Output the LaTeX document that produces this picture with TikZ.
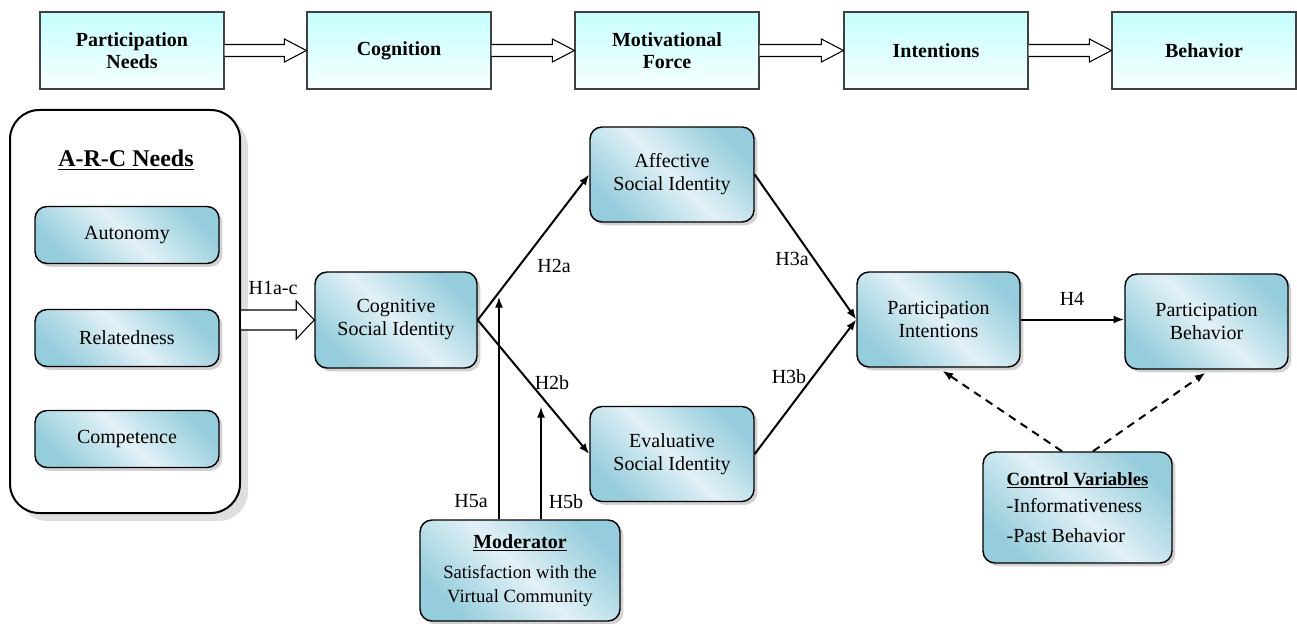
\documentclass[tikz,border=0pt]{standalone}
\usepackage{fontspec}
\setmainfont{Liberation Serif}
\usetikzlibrary{calc,shadows,arrows.meta}

\definecolor{idDark}{RGB}{150,205,220}
\definecolor{idLight}{RGB}{226,241,247}
\definecolor{stageTop}{RGB}{198,255,255}
\definecolor{stageBot}{RGB}{246,255,255}

\tikzset{
  stage/.style={draw=black!75, line width=0.9pt, top color=stageTop, bottom color=stageBot,
    minimum width=138pt, minimum height=57.75pt, inner sep=0pt, align=center,
    font=\fontsize{15}{16}\selectfont\bfseries},
  idbox/.style={draw, line width=1.1pt, rounded corners=9pt,
    top color=idDark, bottom color=idDark, middle color=idLight, shading angle=-45,
    drop shadow={shadow xshift=2.5pt, shadow yshift=-2.5pt, fill=black!35},
    inner sep=0pt, align=center, font=\fontsize{15}{17.25}\selectfont},
  needbox/.style={idbox, minimum width=138pt, minimum height=42.75pt},
  hyp/.style={font=\fontsize{15}{17}\selectfont},
  link/.style={line width=1.5pt, -{Latex[length=8pt,width=6pt]}},
  modlink/.style={line width=1.1pt, -{Latex[length=8pt,width=6pt]}},
  ctrllink/.style={line width=1.5pt, dash pattern={on 6pt off 4.5pt}, -{Latex[length=8pt,width=6pt]}},
  fat/.style={draw=black, line width=0.8pt, fill=white}
}

% hollow block arrow: from, to, half shaft, half head, head length
\newcommand{\fatarrow}[5]{%
  \draw[fat] ($(#1.east |- #2.west)+(0,#3)$) -- ($(#2.west)+(-#5,#3)$) -- ($(#2.west)+(-#5,#4)$)
    -- (#2.west) -- ($(#2.west)+(-#5,-#4)$) -- ($(#2.west)+(-#5,-#3)$) -- ($(#1.east |- #2.west)+(0,-#3)$);}

\begin{document}
\begin{tikzpicture}[x=0.75pt,y=-0.75pt]
\useasboundingbox (0,0) rectangle (1297,624);

%Stages along the top
\node[stage] (sneeds) at (132,50.5) {Participation\\Needs};
\node[stage] (scog) at (399,50.5) {Cognition};
\node[stage] (smot) at (667,50.5) {Motivational\\Force};
\node[stage] (sint) at (936,50.5) {Intentions};
\node[stage] (sbeh) at (1204,50.5) {Behavior};

\fatarrow{sneeds}{scog}{6}{11.5}{22}
\fatarrow{scog}{smot}{6}{11.5}{22}
\fatarrow{smot}{sint}{6}{11.5}{22}
\fatarrow{sint}{sbeh}{6}{11.5}{22}

%Shape: A-R-C container
\node[draw, line width=1.5pt, rounded corners=22pt, fill=white, minimum width=172.5pt, minimum height=302.25pt,
  drop shadow={shadow xshift=6pt, shadow yshift=-6pt, fill=black!25}] (arc) at (125,311.5) {};
\node[font=\fontsize{18}{20}\selectfont\bfseries] (arctitle) at (126,160) {\underline{A-R-C Needs}};
\node[needbox] (auto) at (127,235) {Autonomy};
\node[needbox] (rel) at (127,338) {Relatedness};
\node[needbox] (comp) at (127,439) {Competence};

%Social identity
\node[idbox, minimum width=121.5pt, minimum height=72pt] (cog) at (396,320) {Cognitive\\Social Identity};
\node[idbox, minimum width=123pt, minimum height=71.25pt] (aff) at (672,174.5) {Affective\\Social Identity};
\node[idbox, minimum width=123pt, minimum height=71.25pt] (eval) at (672,454) {Evaluative\\Social Identity};

%Outcomes
\node[idbox, minimum width=122.25pt, minimum height=71.25pt] (pint) at (938.5,319.5) {Participation\\Intentions};
\node[idbox, minimum width=122.25pt, minimum height=71.25pt] (pbeh) at (1206.5,321.5) {Participation\\Behavior};

%Moderator and controls
\node[idbox, minimum width=150pt, minimum height=75.75pt, font=\fontsize{14}{18}\selectfont] (mod) at (520,570.5)
  {\fontsize{15}{17}\selectfont\underline{\textbf{Moderator}}\\[5pt]Satisfaction with the\\Virtual Community};
\node[idbox, minimum width=141.75pt, minimum height=83.25pt, align=left] (ctrl) at (1077.5,507.5)
  {\fontsize{14}{17}\selectfont\underline{\textbf{Control Variables}}\\[3pt]-Informativeness\\[5pt]-Past Behavior};

%Straight Lines
\fatarrow{arc}{cog}{10}{19}{18}
\draw[link] (cog.east) -- (aff.west);
\draw[link] (cog.east) -- (eval.west);
\draw[link] (aff.east) -- (pint.west);
\draw[link] (eval.east) -- (pint.west);
\draw[link] (pint.east) -- (pint.east -| pbeh.west);

\coordinate (h5a) at (499,297);
\coordinate (h5b) at (541,407);
\draw[modlink] (mod.north -| h5a) -- (h5a);
\draw[modlink] (mod.north -| h5b) -- (h5b);

\draw[ctrllink] ($(ctrl.north)+(-15.5,0)$) -- ($(pint.south)+(4,3)$);
\draw[ctrllink] ($(ctrl.north)+(15.5,0)$) -- ($(pbeh.south)+(-1,3)$);

% Text Node
\node[hyp] (l1) at (273,288) {H1a-c};
% Text Node
\node[hyp] (l2a) at (554,266) {H2a};
% Text Node
\node[hyp] (l2b) at (552,383) {H2b};
% Text Node
\node[hyp] (l3a) at (792,259) {H3a};
% Text Node
\node[hyp] (l3b) at (789,377) {H3b};
% Text Node
\node[hyp] (l4) at (1072,299) {H4};
% Text Node
\node[hyp] (l5a) at (471,501) {H5a};
% Text Node
\node[hyp] (l5b) at (566,502) {H5b};

\end{tikzpicture}
\end{document}
